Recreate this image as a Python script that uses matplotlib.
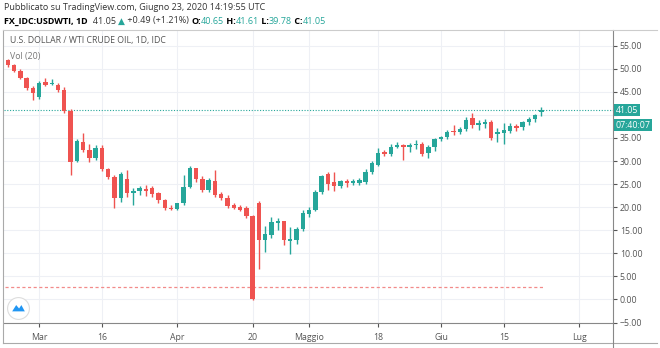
import matplotlib.pyplot as plt
import matplotlib.patches as mpatches
from matplotlib.lines import Line2D
import numpy as np
import pandas as pd

# daily candles, Feb 24 - Jun 23 2020 (weekdays, Good Friday closed)
dates = [d for d in pd.bdate_range('2020-02-24', '2020-06-23') if d != pd.Timestamp('2020-04-10')]

opens = [52.0, 50.8, 49.6, 48.0, 45.8,
         43.8, 47.2, 46.6, 46.5, 45.4,
         40.9, 30.0, 34.2, 32.4, 30.6,
         32.8, 28.3, 26.6, 21.9, 26.0,
         23.1, 23.5, 23.9, 24.1, 23.0,
         21.5, 19.9, 19.7, 20.9, 24.4,
         28.4, 26.0, 23.7, 25.7,
         22.8, 21.9, 20.4, 20.1, 19.9,
         18.1, 21.0, 12.8, 13.9, 16.6,
         17.0, 12.6, 12.8, 15.2, 18.5,
         19.3, 23.3, 27.2, 25.5, 24.6,
         25.7, 25.2, 25.3, 25.5, 27.7,
         29.2, 32.0, 31.5, 33.1, 33.5,
         33.1, 33.4, 33.8, 31.7, 33.1,
         34.7, 35.3, 36.6, 36.4, 36.9,
         39.3, 37.8, 38.0, 38.5, 35.8,
         36.0, 36.6, 37.5, 37.3, 38.4,
         39.1, 40.65]
highs = [52.2, 51.0, 49.9, 48.3, 46.3,
         47.3, 47.9, 47.8, 47.0, 46.0,
         41.2, 34.8, 36.1, 33.8, 33.5,
         33.5, 28.5, 27.0, 27.6, 28.0,
         24.1, 24.6, 24.9, 24.5, 23.3,
         21.8, 20.5, 21.0, 27.0, 29.0,
         28.6, 26.8, 26.3, 28.0,
         23.2, 22.7, 20.8, 20.4, 20.2,
         18.3, 21.3, 15.9, 17.8, 17.6,
         17.1, 15.7, 15.7, 19.4, 20.0,
         23.7, 27.0, 27.7, 27.7, 25.9,
         26.2, 26.0, 26.3, 28.2, 30.0,
         32.8, 32.4, 33.6, 34.2, 33.6,
         34.0, 34.5, 34.2, 33.5, 34.9,
         35.5, 36.8, 37.8, 37.3, 39.6,
         40.4, 38.9, 39.1, 38.9, 37.2,
         38.2, 38.3, 38.1, 38.6, 39.6,
         40.3, 41.61]
lows = [50.3, 49.2, 47.8, 45.3, 43.3,
        43.5, 46.2, 46.4, 45.0, 40.5,
        27.0, 29.8, 32.0, 29.8, 30.2,
        27.8, 26.0, 19.8, 21.2, 22.2,
        20.4, 22.6, 22.5, 22.2, 21.0,
        19.3, 19.4, 19.3, 20.5, 24.2,
        25.5, 23.2, 23.2, 22.2,
        21.6, 19.8, 19.5, 19.1, 17.6,
        -0.1, 6.5, 10.3, 13.4, 15.1,
        11.9, 9.9, 12.1, 14.8, 17.8,
        19.1, 22.8, 23.8, 23.6, 24.1,
        24.3, 24.8, 24.7, 25.0, 27.2,
        28.9, 31.0, 31.1, 32.8, 30.3,
        31.9, 32.7, 31.2, 30.6, 32.1,
        34.3, 34.8, 35.7, 35.9, 36.6,
        37.2, 36.8, 37.2, 34.6, 34.2,
        33.8, 36.1, 36.6, 36.8, 37.9,
        38.5, 39.78]
closes = [50.9, 49.6, 48.1, 45.8, 44.7,
          47.0, 46.5, 46.9, 45.4, 40.9,
          29.8, 34.3, 32.5, 30.6, 32.8,
          28.3, 26.6, 21.9, 27.3, 23.0,
          23.5, 24.1, 23.6, 22.8, 21.5,
          19.9, 19.6, 20.8, 24.4, 28.4,
          26.0, 23.7, 25.9, 22.6,
          21.9, 20.3, 19.9, 19.3, 18.1,
          0.0, 12.8, 14.1, 16.8, 17.0,
          12.8, 13.0, 15.2, 18.8, 19.3,
          23.3, 26.7, 25.0, 24.6, 25.7,
          25.2, 25.7, 25.8, 27.6, 29.5,
          31.8, 31.5, 33.1, 33.5, 33.1,
          33.5, 33.8, 31.5, 33.1, 34.7,
          35.3, 36.4, 36.2, 36.9, 39.0,
          37.8, 38.2, 38.5, 34.9, 36.2,
          36.7, 37.5, 37.2, 38.4, 39.1,
          40.0, 41.05]

last_price = 41.05
vol_level = 2.8
tick_dates = ['2020-03-02', '2020-03-16', '2020-04-01', '2020-04-20', '2020-05-01',
              '2020-05-18', '2020-06-01', '2020-06-15', '2020-07-01']
tick_labels = ['Mar', '16', 'Apr', '20', 'Maggio', '18', 'Giu', '15', 'Lug']
price_ticks = np.arange(-5, 56, 5)

GREEN = '#26a69a'
RED = '#ef5350'
W, H = 660, 348


def price_label(v):
    if v == 40:
        return ''  # hidden behind the last price tag
    if v < 0:
        return '\u2212%.2f' % -v
    return '%.2f' % v


def main():
    plt.rcParams['font.family'] = ['Open Sans', 'DejaVu Sans']
    fig = plt.figure(figsize=(W / 100, H / 100), dpi=100)
    ax = fig.add_axes([4 / W, (H - 323) / H, (613 - 4) / W, (323 - 30) / H])

    o = np.array(opens)
    h = np.array(highs)
    l = np.array(lows)
    c = np.array(closes)
    x = np.arange(len(dates))
    cols = np.where(c >= o, GREEN, RED)
    bottoms = np.minimum(o, c)
    heights = np.maximum(np.abs(c - o), 0.2)

    ax.vlines(x, l, h, colors=cols, linewidth=1.0, zorder=3)
    ax.bar(x, heights, bottom=bottoms, width=0.7, color=cols, linewidth=0, zorder=4)

    # volume line and last price line
    ax.plot([-0.5, x[-1] + 0.3], [vol_level, vol_level], color='#f28b8a', lw=0.9,
            dashes=(2.5, 2), zorder=2)
    ax.axhline(last_price, color=GREEN, lw=0.8, ls=(0, (1, 1.5)), zorder=2)

    tpos = [np.busday_count('2020-02-24', d, holidays=['2020-04-10']) for d in tick_dates]
    ax.set_xticks(tpos)
    ax.set_xticklabels(tick_labels)
    ax.set_yticks(price_ticks)
    ax.set_yticklabels([price_label(v) for v in price_ticks])
    ax.set_xlim(-0.6, 96.4)
    ax.set_ylim(-5.1, 58.4)
    ax.yaxis.tick_right()
    ax.tick_params(axis='y', length=3, pad=2, labelsize=6.3, colors='#555555')
    ax.tick_params(axis='x', length=3, pad=4, labelsize=6.3, colors='#555555')
    ax.grid(True, color='#eef0f5', lw=0.8, zorder=0)
    for s in ['top', 'left']:
        ax.spines[s].set_visible(False)
    ax.spines['right'].set_color('#888888')
    ax.spines['bottom'].set_color('#888888')

    # frame
    fig.add_artist(Line2D([3 / W, 3 / W], [(H - 30) / H, (H - 343) / H], color='#aaaaaa', lw=0.8))
    fig.add_artist(Line2D([3 / W, 657 / W], [(H - 30) / H, (H - 30) / H], color='#cccccc', lw=0.8))
    fig.add_artist(Line2D([3 / W, 657 / W], [(H - 343) / H, (H - 343) / H], color='#aaaaaa', lw=0.8))
    fig.add_artist(Line2D([613 / W, 613 / W], [(H - 323) / H, (H - 348) / H], color='#888888', lw=0.8))

    # price tags on the right axis
    ax.annotate('41.05', xy=(1.0, last_price), xycoords=('axes fraction', 'data'),
                xytext=(2, 0), textcoords='offset points', ha='left', va='center',
                fontsize=6.3, color='white', annotation_clip=False,
                bbox=dict(boxstyle='square,pad=0.18', fc=GREEN, ec='none'))
    ax.annotate('07:40:07', xy=(1.0, last_price), xycoords=('axes fraction', 'data'),
                xytext=(2, -11), textcoords='offset points', ha='left', va='center',
                fontsize=6.3, color='white', annotation_clip=False,
                bbox=dict(boxstyle='square,pad=0.18', fc=GREEN, ec='none'))

    # legend texts
    fig.text(10 / W, 1 - 41 / H, 'U.S. DOLLAR / WTI CRUDE OIL, 1D, IDC', fontsize=6.3,
             color='#555555', va='center')
    fig.text(10 / W, 1 - 56 / H, 'Vol (20)', fontsize=6.3, color='#777777', va='center')

    # header
    fig.text(4 / W, 1 - 8 / H, 'Pubblicato su TradingView.com, Giugno 23, 2020 14:19:55 UTC',
             fontsize=6.5, color='#333333', va='center')
    pieces = [('  41.05 ', '#333333', 'normal'),
              ('\u25b2', GREEN, 'normal'),
              (' +0.49 (+1.21%) ', '#333333', 'normal'),
              ('O:', 'black', 'bold'), ('40.65', GREEN, 'normal'),
              (' H:', 'black', 'bold'), ('41.61', GREEN, 'normal'),
              (' L:', 'black', 'bold'), ('39.78', GREEN, 'normal'),
              (' C:', 'black', 'bold'), ('41.05', GREEN, 'normal')]
    prev = fig.text(4 / W, 1 - 21 / H, 'FX_IDC:USDWTI, 1D', fontsize=6.5, color='black',
                    fontweight='bold', va='center')
    for txt, col, wt in pieces:
        prev = ax.annotate(txt, xy=(1, 0.5), xycoords=prev, va='center', ha='left',
                           fontsize=6.5, color=col, fontweight=wt, annotation_clip=False)

    # logo
    lax = fig.add_axes([7 / W, 1 - 320 / H, 23 / W, 23 / H])
    lax.set_xlim(-1, 1)
    lax.set_ylim(-1, 1)
    lax.axis('off')
    lax.add_patch(mpatches.Circle((0, 0), 0.95, fc='white', ec='#dddddd', lw=0.8))
    lax.add_patch(mpatches.Polygon([(-0.55, -0.25), (-0.2, 0.3), (0.05, 0.0), (0.25, 0.3),
                                    (0.55, -0.25)], closed=True, fc='#2196f3', ec='none'))

    fig.savefig('out.png', dpi=100)


if __name__ == '__main__':
    main()
